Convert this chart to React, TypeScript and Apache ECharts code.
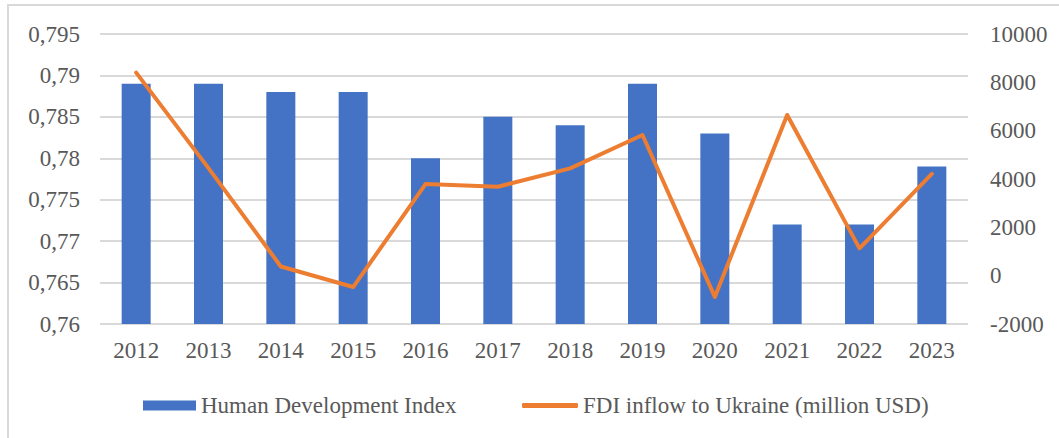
import React, { useEffect, useRef } from "react";
import * as echarts from "echarts";

const years = ["2012", "2013", "2014", "2015", "2016", "2017", "2018", "2019", "2020", "2021", "2022", "2023"];
const hdi = [0.789, 0.789, 0.788, 0.788, 0.78, 0.785, 0.784, 0.789, 0.783, 0.772, 0.772, 0.779];
const fdi = [8400, 4450, 380, -470, 3790, 3680, 4440, 5820, -880, 6650, 1130, 4210];
const hdiName = "Human Development Index";
const fdiName = "FDI inflow to Ukraine (million USD)";

const FONT = '"Liberation Serif", "Times New Roman", serif';
const GRAY = "#595959";

export default function App() {
  const ref = useRef<HTMLDivElement>(null);
  useEffect(() => {
    if (!ref.current) return;
    const chart = echarts.init(ref.current, undefined, { renderer: "svg" });
    chart.setOption({
      animation: false,
      textStyle: { fontFamily: FONT },
      graphic: [
        {
          type: "rect",
          shape: { x: 8, y: 5, width: 1060, height: 450 },
          style: { fill: "none", stroke: "#d9d9d9", lineWidth: 2 },
          silent: true,
        },
      ],
      grid: { left: 100, right: 91, top: 34, bottom: 114, containLabel: false },
      legend: [
        {
          data: [hdiName],
          left: 143,
          top: 394,
          padding: 0,
          itemWidth: 53,
          itemHeight: 10,
          icon: "rect",
          textStyle: { fontFamily: FONT, fontSize: 23, color: GRAY },
        },
        {
          data: [fdiName],
          left: 522,
          top: 394,
          padding: 0,
          itemWidth: 56,
          itemHeight: 5,
          icon: "roundRect",
          textStyle: { fontFamily: FONT, fontSize: 23, color: GRAY },
        },
      ],
      xAxis: {
        type: "category",
        data: years,
        axisLine: { show: false },
        axisTick: { show: false },
        axisLabel: { fontFamily: FONT, fontSize: 23, color: GRAY, margin: 15 },
      },
      yAxis: [
        {
          type: "value",
          min: 0.76,
          max: 0.795,
          interval: 0.005,
          axisLine: { show: false },
          axisTick: { show: false },
          splitLine: { lineStyle: { color: "#d9d9d9", width: 2 } },
          axisLabel: {
            fontFamily: FONT,
            fontSize: 23,
            color: GRAY,
            margin: 20,
            formatter: (v: number) => String(Math.round(v * 1000) / 1000).replace(".", ","),
          },
        },
        {
          type: "value",
          min: -2000,
          max: 10000,
          interval: 2000,
          position: "right",
          axisLine: { show: false },
          axisTick: { show: false },
          splitLine: { show: false },
          axisLabel: {
            fontFamily: FONT,
            fontSize: 23,
            color: GRAY,
            margin: 22,
            formatter: (v: number) => String(v),
          },
        },
      ],
      series: [
        {
          name: hdiName,
          type: "bar",
          data: hdi,
          yAxisIndex: 0,
          barWidth: 29,
          itemStyle: { color: "#4472C4" },
        },
        {
          name: fdiName,
          type: "line",
          data: fdi,
          yAxisIndex: 1,
          symbol: "none",
          showSymbol: false,
          lineStyle: { color: "#ED7D31", width: 4, cap: "round", join: "round" },
          itemStyle: { color: "#ED7D31" },
          z: 5,
        },
      ],
    });
    return () => chart.dispose();
  }, []);
  return (
    <div
      ref={ref}
      style={{ position: "fixed", left: 0, top: 0, width: 1059, height: 438, background: "#fff" }}
    />
  );
}
